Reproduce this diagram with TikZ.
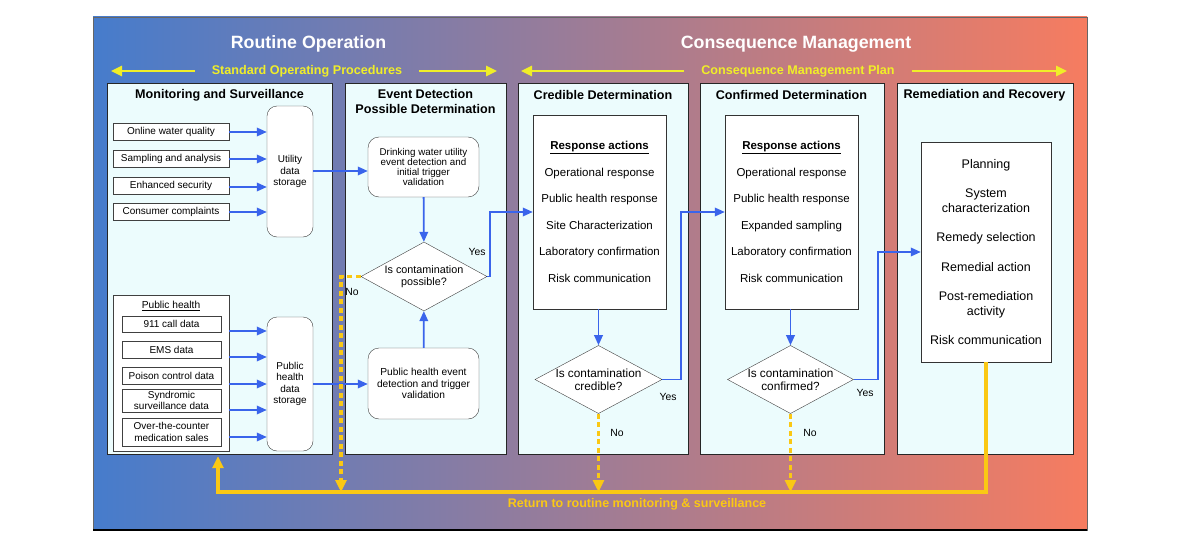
\documentclass[tikz,border=0pt]{standalone}
\usepackage{fontspec}
\setmainfont{Liberation Sans}
\usepackage{tikz}
\usetikzlibrary{arrows.meta,shapes,calc,backgrounds}
\usetikzlibrary{positioning}
\definecolor{skyfill}{RGB}{236,252,253}
\definecolor{flowblue}{RGB}{58,100,235}
\definecolor{gold}{RGB}{250,200,20}
\definecolor{lemon}{RGB}{240,238,40}
\definecolor{bgblue}{RGB}{70,124,204}
\definecolor{bgred}{RGB}{246,124,96}
\tikzset{
    head/.style={
           text=white,
           inner sep=0,
           font=\fontsize{17.8}{20}\selectfont\bfseries,
           },
    plan/.style={
           text=lemon,
           inner sep=0,
           font=\fontsize{12.6}{14}\selectfont\bfseries,
           },
    panel/.style={
           rectangle,
           draw=black!85, semithick,
           fill=skyfill,
           anchor=north west,
           minimum height=371,
           inner sep=0,
           },
    ptitle/.style={
           align=center,
           inner sep=0,
           font=\fontsize{12.6}{15}\selectfont\bfseries,
           },
    srcbox/.style={
           rectangle,
           draw=black!75,
           fill=white,
           minimum width=116,
           minimum height=17,
           inner sep=0,
           align=center,
           font=\fontsize{10}{11}\selectfont,
           },
    phbox/.style={
           srcbox,
           minimum width=99,
           },
    store/.style={
           rectangle,
           rounded corners=10pt,
           draw=black!75,
           fill=white,
           minimum width=46,
           align=center,
           inner sep=0,
           font=\fontsize{10}{11.6}\selectfont,
           },
    state/.style={
           rectangle,
           rounded corners=11pt,
           draw=black!75,
           fill=white,
           minimum width=111,
           align=center,
           inner sep=0,
           },
    decision/.style={
           diamond,
           aspect=1.85,
           draw=black!75,
           fill=white,
           align=center,
           inner sep=0,
           },
    actions/.style={
           rectangle,
           draw=black!80,
           fill=white,
           minimum width=133,
           minimum height=194,
           align=center,
           inner sep=0,
           font=\fontsize{11.5}{26.5}\selectfont,
           },
    lbl/.style={
           inner sep=0,
           font=\fontsize{10.4}{12}\selectfont,
           },
    pil/.style={
           ->,
           draw=flowblue,
           line width=1.8pt,
           },
    nopil/.style={
           -{Triangle[length=12pt,width=11pt]},
           draw=gold,
           line width=3.6pt,
           dash pattern=on 5pt off 3.5pt,
           },
    backpil/.style={
           -{Triangle[length=12pt,width=11pt]},
           draw=gold,
           line width=3.8pt,
           shorten >=5pt,
           },
    hdrpil/.style={
           -{Triangle[length=11pt,width=10pt]},
           draw=lemon,
           line width=2.5pt,
           shorten <=17pt,
           },
}

\begin{document}
\begin{tikzpicture}[x=1pt,y=-1pt,>={Triangle[length=10pt,width=8.5pt]}]
\useasboundingbox (0,0) rectangle (1178,543);
% backdrop
\shade[left color=bgblue, right color=bgred] (93,17) rectangle (1087,530);
\draw[black!60] (93,17) rectangle (1087,530);
\draw[line width=2pt] (93,530) -- (1087,530);

% headings
\node[head] (ro) at (308.5,44) {Routine Operation};
\node[head] (cm) at (796,44) {Consequence Management};
\node[plan] (sop) at (307,71) {Standard Operating Procedures};
\node[plan] (cmp) at (798,71) {Consequence Management Plan};
\coordinate (sopL) at (111,71);
\coordinate (sopR) at (497,71);
\coordinate (cmpL) at (521,71);
\coordinate (cmpR) at (1067,71);
\draw[hdrpil] (sop) -- (sopL);
\draw[hdrpil] (sop) -- (sopR);
\draw[hdrpil] (cmp) -- (cmpL);
\draw[hdrpil] (cmp) -- (cmpR);

% panels
\node[panel, minimum width=225] (p1) at (107,83) {};
\node[panel, minimum width=161] (p2) at (345,83) {};
\node[panel, minimum width=170] (p3) at (518,83) {};
\node[panel, minimum width=184] (p4) at (700,83) {};
\node[panel, minimum width=176] (p5) at (897,83) {};
\node[ptitle] (t1) at (219.5,95) {Monitoring and Surveillance};
\node[ptitle] (t2) at (425.5,101.5) {Event Detection\\Possible Determination};
\node[ptitle] (t3) at (603,95) {Credible Determination};
\node[ptitle] (t4) at (791.5,95) {Confirmed Determination};
\node[ptitle] (t5) at (984.5,95) {Remediation and Recovery};

% monitoring and surveillance
\node[srcbox] (ow) at (171,132) {Online water quality};
\node[srcbox] (sa) at (171,158.5) {Sampling and analysis};
\node[srcbox] (es) at (171,185.5) {Enhanced security};
\node[srcbox] (cc) at (171,211.5) {Consumer complaints};
\node[store, minimum height=131] (ustore) at (290,171.5) {Utility\\data\\storage};
\node[srcbox, minimum height=156] (ph) at (171,373) {};
\node[lbl, font=\fontsize{10.2}{12}\selectfont] (phtitle) at (171,306) {\underline{Public health}};
\node[phbox, minimum height=16] (c911) at (171.5,324) {911 call data};
\node[phbox] (ems) at (171.5,349.5) {EMS data};
\node[phbox] (poison) at (171.5,375.5) {Poison control data};
\node[phbox, minimum height=23, font=\fontsize{10}{11.5}\selectfont] (synd) at (171.5,400.5) {Syndromic\\surveillance data};
\node[phbox, minimum height=28, font=\fontsize{10}{12}\selectfont] (otc) at (171.5,432) {Over-the-counter\\medication sales};
\node[store, minimum height=134] (phstore) at (290,384) {Public\\health\\data\\storage};
\foreach \b/\yy in {ow/132,sa/159,es/187,cc/212}
    \draw[pil] (\b.east |- 0,\yy) -- (ustore.west |- 0,\yy);
\foreach \yy in {331,357,384,410,437}
    \draw[pil] (ph.east |- 0,\yy) -- (phstore.west |- 0,\yy);

% event detection
\node[state, minimum height=60, font=\fontsize{9.8}{9.8}\selectfont] (dw) at (423.5,167) {Drinking water utility\\event detection and\\initial trigger\\validation};
\node[decision, minimum width=126, minimum height=69, font=\fontsize{10.8}{12}\selectfont] (dec1) at (424,276.5) {Is contamination\\possible?};
\node[state, minimum height=71, font=\fontsize{10.2}{11.5}\selectfont] (phev) at (423.5,383.5) {Public health event\\detection and trigger\\validation};
\draw[pil] (ustore.east |- 0,171) -- (dw.west |- 0,171);
\draw[pil] (phstore.east |- 0,384) -- (phev.west |- 0,384);
\draw[pil] (dw) -- (dec1);
\draw[pil] (phev) -- (dec1);
\node[lbl] (y1) at (477,252) {Yes};
\node[lbl] (n1) at (352,292) {No};

% credible determination
\node[actions] (cred) at (599.5,212) {\underline{\textbf{Response actions}}\\Operational response\\Public health response\\Site Characterization\\Laboratory confirmation\\Risk communication};
\node[decision, minimum width=127, minimum height=67, font=\fontsize{11.8}{13}\selectfont] (dec2) at (598.5,379.5) {Is contamination\\credible?};
\draw[pil] (dec1.east) -- ++(3,0) |- (cred.west);
\draw[pil] (cred.south -| dec2) -- (dec2.north);
\node[lbl] (y2) at (668,397) {Yes};
\node[lbl] (n2) at (617,433) {No};

% confirmed determination
\node[actions] (conf) at (791.5,212) {\underline{\textbf{Response actions}}\\Operational response\\Public health response\\Expanded sampling\\Laboratory confirmation\\Risk communication};
\node[decision, minimum width=125, minimum height=67, font=\fontsize{11.8}{13}\selectfont] (dec3) at (790.5,379.5) {Is contamination\\confirmed?};
\draw[pil] (dec2.east) -- ++(19,0) |- (conf.west);
\draw[pil] (conf.south -| dec3) -- (dec3.north);
\node[lbl] (y3) at (865,393) {Yes};
\node[lbl] (n3) at (810,433) {No};

% remediation and recovery
\node[actions, minimum width=130, minimum height=220, font=\fontsize{12.5}{14.5}\selectfont] (remed) at (986,252) {Planning\\[15pt]System\\characterization\\[15pt]Remedy selection\\[15pt]Remedial action\\[15pt]Post-remediation\\activity\\[15pt]Risk communication};
\draw[pil] (dec3.east) -- ++(24,0) |- (remed.west);

% back to routine monitoring
\coordinate (back) at (218,492);
\coordinate (drop1) at (341,492);
\draw[nopil] (dec1.west) -| (drop1);
\draw[nopil] (dec2.south) -- (dec2.south |- back);
\draw[nopil] (dec3.south) -- (dec3.south |- back);
\draw[backpil] (remed.south) |- (back) -- (back |- ph.south);
\node[plan, text=gold, font=\fontsize{12.5}{14}\selectfont\bfseries] (ret) at (637,504) {Return to routine monitoring \& surveillance};
\end{tikzpicture}
\end{document}
